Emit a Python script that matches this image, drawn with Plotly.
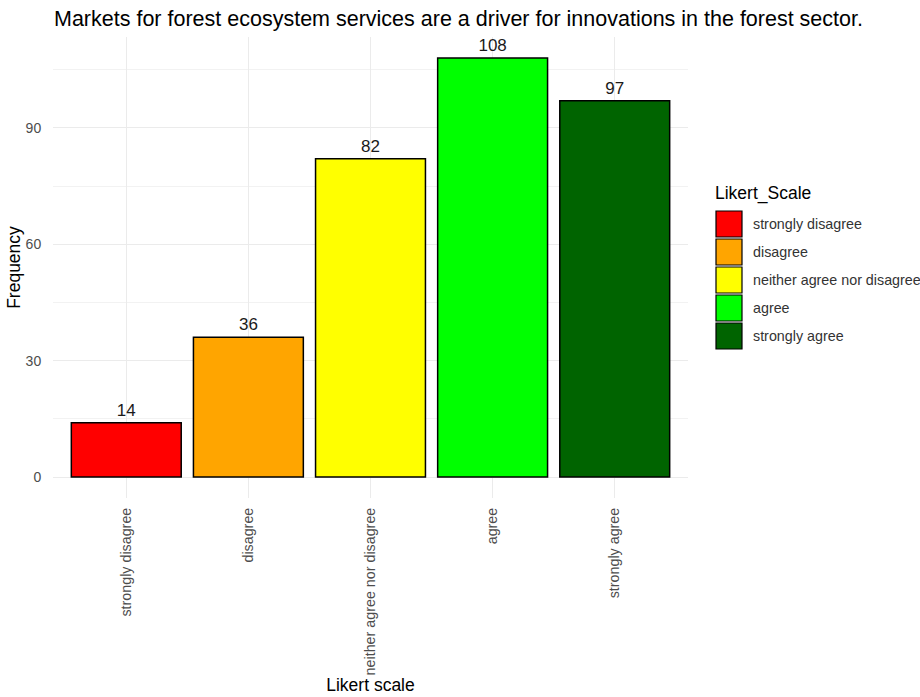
import plotly.graph_objects as go

categories = ["strongly disagree", "disagree", "neither agree nor disagree", "agree", "strongly agree"]
frequencies = [14, 36, 82, 108, 97]
colors = ["#FF0000", "#FFA500", "#FFFF00", "#00FF00", "#006400"]
y_ticks = [0, 30, 60, 90]
y_minor = [15, 45, 75, 105]

W, H = 920, 697
L, R, T, B = 53, 232, 37, 199
pw, ph = W - L - R, H - T - B

def px_x(x):
    return (x - L) / pw

def px_y(y):
    return (H - B - y) / ph

font = "Liberation Sans, Arial, sans-serif"

fig = go.Figure()
fig.add_trace(go.Bar(
    x=categories, y=frequencies,
    marker=dict(color=colors, line=dict(color="#000000", width=1.5)),
    width=0.9,
    text=[str(v) for v in frequencies], textposition="outside",
    textfont=dict(size=17, color="#1a1a1a", family=font),
    cliponaxis=False, showlegend=False,
))

fig.update_layout(
    width=W, height=H,
    margin=dict(l=L, r=R, t=T, b=B, pad=0, autoexpand=False),
    paper_bgcolor="white", plot_bgcolor="white",
    font=dict(family=font),
    title=dict(text="Markets for forest ecosystem services are a driver for innovations in the forest sector.",
               x=54 / W, xanchor="left", y=1 - 18 / H, yanchor="middle",
               font=dict(size=21.5, color="#000000", family=font)),
    xaxis=dict(
        categoryorder="array", categoryarray=categories,
        range=[-0.6, 4.6], automargin=False,
        showgrid=True, gridcolor="#EBEBEB", gridwidth=1.1,
        tickangle=-90, tickfont=dict(size=14.3, color="#4D4D4D"),
        ticks="outside", ticklen=3, tickcolor="rgba(0,0,0,0)",
        showline=False, zeroline=False,
        title=dict(text="Likert scale", font=dict(size=17.5, color="#000000"), standoff=2),
    ),
    yaxis=dict(
        range=[-5.4, 113.4], automargin=False,
        tickvals=y_ticks,
        showgrid=True, gridcolor="#EBEBEB", gridwidth=1.1,
        minor=dict(tickvals=y_minor, showgrid=True, gridcolor="#F2F2F2", gridwidth=0.6),
        tickfont=dict(size=14, color="#4D4D4D"),
        ticks="outside", ticklen=8, tickcolor="rgba(0,0,0,0)",
        showline=False, zeroline=False,
        title=dict(text="Frequency", font=dict(size=17.5, color="#000000"), standoff=0),
    ),
)

# legend built from the category/color lists
fig.add_annotation(x=px_x(713), y=px_y(194), xref="paper", yref="paper",
                   text="Likert_Scale", showarrow=False, xanchor="left", yanchor="middle",
                   font=dict(size=17.5, color="#000000", family=font))
for i, (cat, col) in enumerate(zip(categories, colors)):
    top = 211 + i * 28
    fig.add_shape(type="rect", xref="paper", yref="paper",
                  x0=px_x(716), x1=px_x(742), y0=px_y(top), y1=px_y(top + 26),
                  fillcolor=col, line=dict(color="#000000", width=1.2))
    fig.add_annotation(x=px_x(751), y=px_y(top + 13), xref="paper", yref="paper",
                       text=cat, showarrow=False, xanchor="left", yanchor="middle",
                       font=dict(size=14.3, color="#333333", family=font))

fig.write_html("out.html")
